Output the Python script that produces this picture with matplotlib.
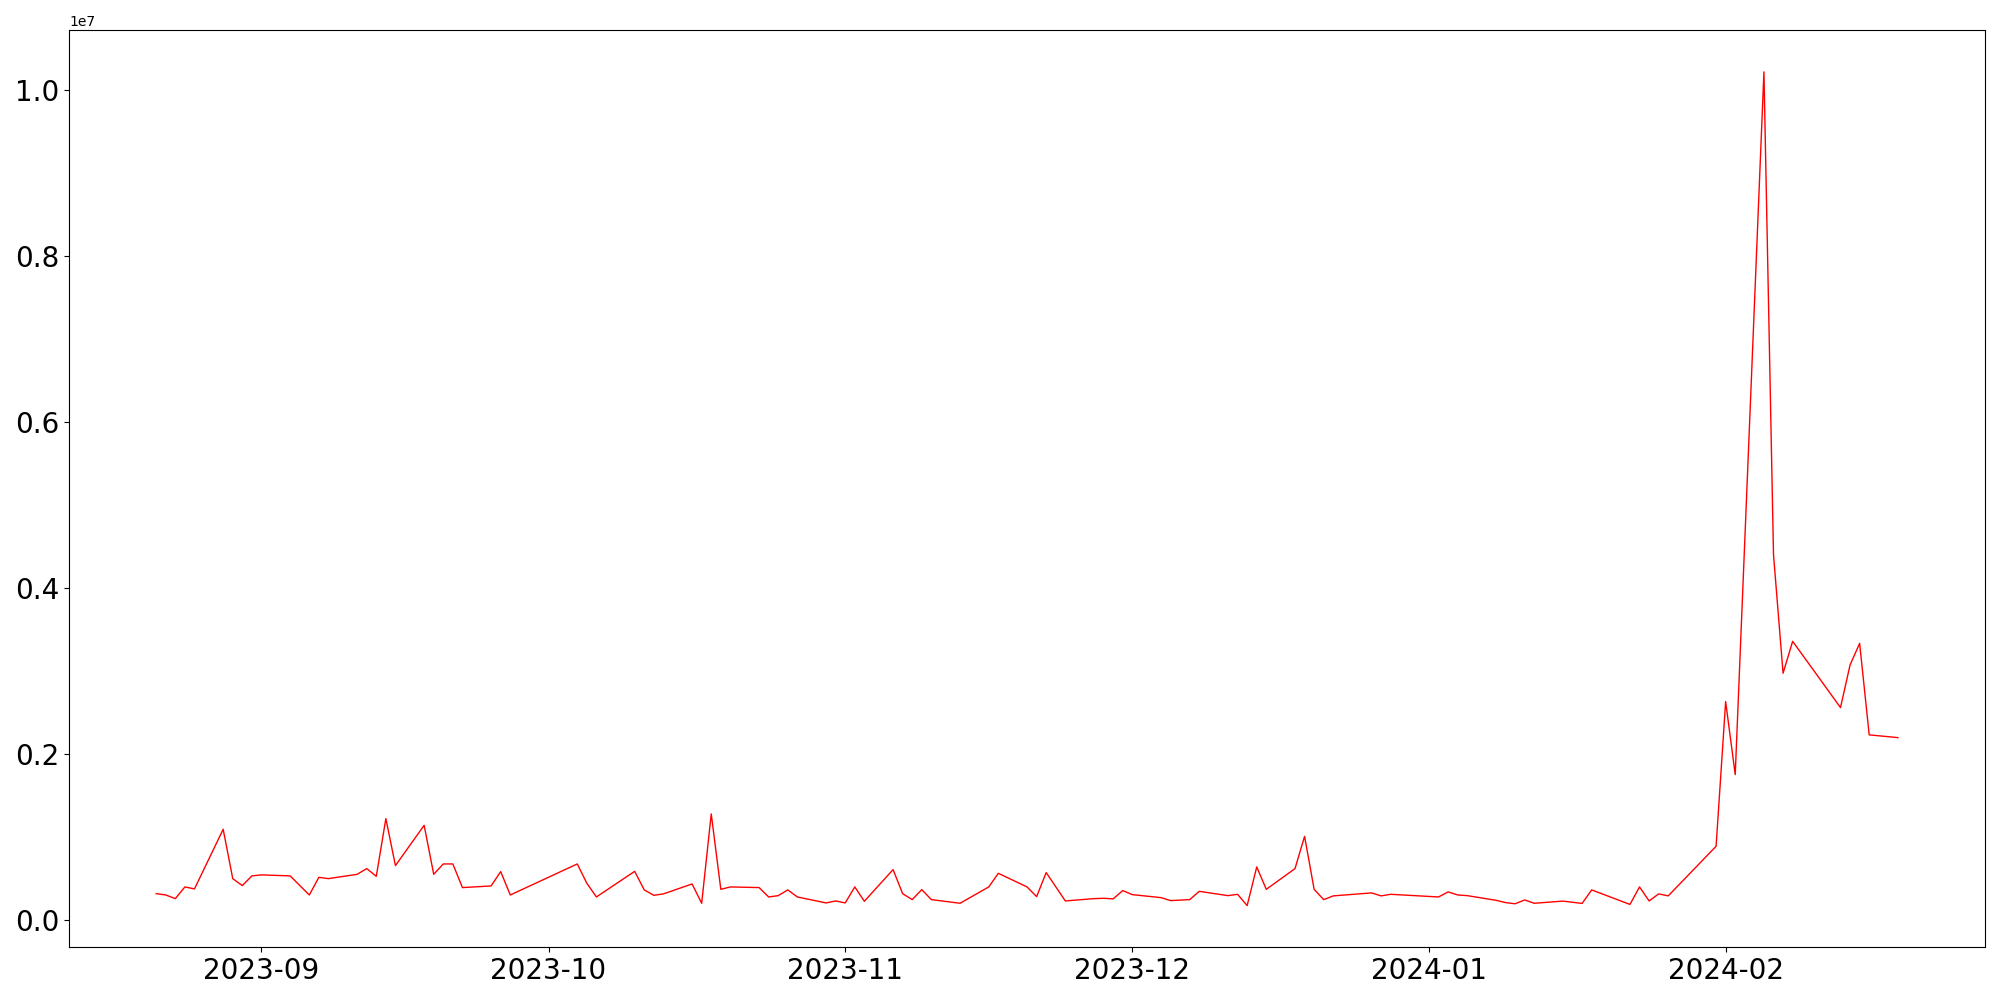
import matplotlib
matplotlib.use("Agg")
import matplotlib.pyplot as plt
import pandas as pd

# trading days and daily volume (millions)
dates = [
    "2023-08-21", "2023-08-22", "2023-08-23", "2023-08-24", "2023-08-25",
    "2023-08-28", "2023-08-29", "2023-08-30", "2023-08-31", "2023-09-01",
    "2023-09-04", "2023-09-06", "2023-09-07", "2023-09-08",
    "2023-09-11", "2023-09-12", "2023-09-13", "2023-09-14", "2023-09-15",
    "2023-09-18", "2023-09-19", "2023-09-20", "2023-09-21", "2023-09-22",
    "2023-09-25", "2023-09-26", "2023-09-27",
    "2023-10-04", "2023-10-05", "2023-10-06",
    "2023-10-10", "2023-10-11", "2023-10-12", "2023-10-13",
    "2023-10-16", "2023-10-17", "2023-10-18", "2023-10-19", "2023-10-20",
    "2023-10-23", "2023-10-24", "2023-10-25", "2023-10-26", "2023-10-27",
    "2023-10-30", "2023-10-31", "2023-11-01", "2023-11-02", "2023-11-03",
    "2023-11-06", "2023-11-07", "2023-11-08", "2023-11-09", "2023-11-10",
    "2023-11-13", "2023-11-16", "2023-11-17",
    "2023-11-20", "2023-11-21", "2023-11-22", "2023-11-24",
    "2023-11-27", "2023-11-28", "2023-11-29", "2023-11-30", "2023-12-01",
    "2023-12-04", "2023-12-05", "2023-12-07", "2023-12-08",
    "2023-12-11", "2023-12-12", "2023-12-13", "2023-12-14", "2023-12-15",
    "2023-12-18", "2023-12-19", "2023-12-20", "2023-12-21", "2023-12-22",
    "2023-12-26", "2023-12-27", "2023-12-28",
    "2024-01-02", "2024-01-03", "2024-01-04", "2024-01-05",
    "2024-01-08", "2024-01-09", "2024-01-10", "2024-01-11", "2024-01-12",
    "2024-01-15", "2024-01-17", "2024-01-18",
    "2024-01-22", "2024-01-23", "2024-01-24", "2024-01-25", "2024-01-26",
    "2024-01-31", "2024-02-01", "2024-02-02",
    "2024-02-05", "2024-02-06", "2024-02-07", "2024-02-08",
    "2024-02-13", "2024-02-14", "2024-02-15", "2024-02-16",
    "2024-02-19",
]

volume_m = [
    0.313, 0.297, 0.253, 0.394, 0.370,
    1.089, 0.494, 0.410, 0.527, 0.539,
    0.527, 0.297, 0.510, 0.494,
    0.546, 0.615, 0.522, 1.218, 0.651,
    1.137, 0.546, 0.671, 0.671, 0.386,
    0.406, 0.579, 0.297,
    0.671, 0.438, 0.273,
    0.582, 0.358, 0.293, 0.310,
    0.430, 0.197, 1.274, 0.365, 0.394,
    0.386, 0.273, 0.289, 0.358, 0.273,
    0.201, 0.225, 0.201, 0.394, 0.221,
    0.603, 0.313, 0.241, 0.362, 0.241,
    0.197, 0.394, 0.558,
    0.394, 0.277, 0.567, 0.225,
    0.253, 0.257, 0.250, 0.350, 0.301,
    0.265, 0.229, 0.241, 0.341,
    0.289, 0.305, 0.169, 0.635, 0.365,
    0.615, 1.004, 0.365, 0.241, 0.286,
    0.322, 0.286, 0.305,
    0.273, 0.334, 0.297, 0.289,
    0.233, 0.205, 0.191, 0.237, 0.197,
    0.223, 0.195, 0.358,
    0.183, 0.394, 0.225, 0.310, 0.286,
    0.884, 2.628, 1.748,
    10.22, 4.40, 2.970, 3.355,
    2.556, 3.070, 3.330, 2.227,
    2.194,
]

df = pd.DataFrame({"date": pd.to_datetime(dates), "volume": [v * 1e6 for v in volume_m]})

plt.figure(figsize=(20, 10), dpi=100)
plt.plot(df["date"], df["volume"], color="red", linewidth=1)
plt.xticks(fontsize=20)
plt.yticks(fontsize=20)
plt.tight_layout()
plt.savefig("out.png")
